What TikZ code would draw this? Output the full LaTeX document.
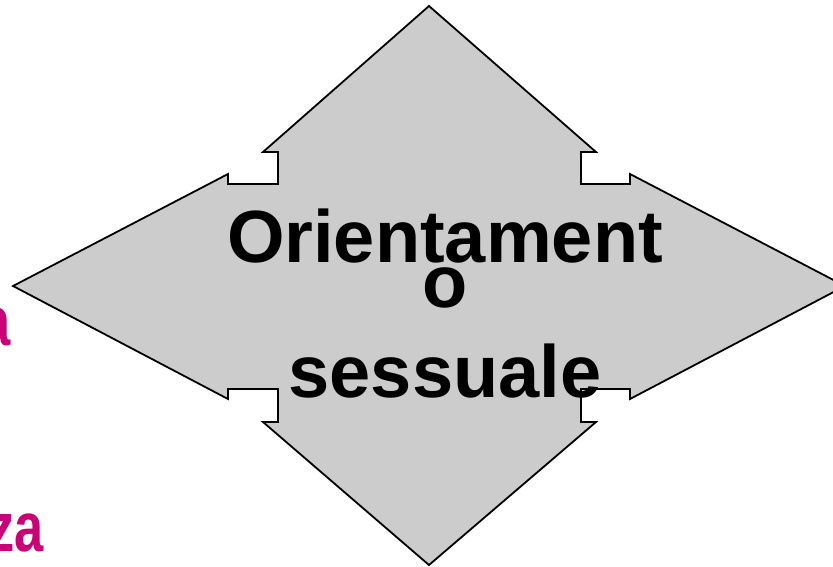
\documentclass[tikz,border=0pt]{standalone}
\usepackage{fontspec}
\setmainfont{Liberation Sans}
\usepackage{tikz}
\definecolor{quadgray}{RGB}{204,204,204}
\definecolor{labelpink}{RGB}{204,0,119}

\begin{document}
\begin{tikzpicture}[
                x=1pt, y=-1pt,
                quad/.style={draw=black, fill=quadgray, line width=1.8pt, line join=miter}, % Four-way arrow
                title/.style={font=\fontsize{74}{74}\selectfont\bfseries, inner sep=0pt, anchor=base}, % Centre text
                side/.style={font=\fontsize{70}{70}\selectfont\bfseries, text=labelpink, inner sep=0pt, anchor=base east} % Cut-off text
                ]
                \useasboundingbox (0,0) rectangle (833,566);
                \clip (0,0) rectangle (833,566);
                \draw[quad] (429,6) -- (596,152) -- (581,152) -- (581,184) -- (630,184) -- (630,174)
                    -- (845,286) -- (630,399) -- (630,389) -- (581,389) -- (581,422) -- (596,422)
                    -- (429,565) -- (263,422) -- (278,422) -- (278,389) -- (228,389) -- (228,399)
                    -- (13,286) -- (228,174) -- (228,184) -- (278,184) -- (278,152) -- (263,152) -- cycle;
                \node[title] (line1) at (445,262) {Orientament};
                \node[title] (line2) at (445,307) {o};
                \node[title] (line3) at (445,397) {sessuale};
                \node[side] (left1) at (11,345) {\scalebox{0.75}[1]{a}};
                \node[side] (left2) at (44,551) {\scalebox{0.75}[1]{za}};
            \end{tikzpicture}
\end{document}
